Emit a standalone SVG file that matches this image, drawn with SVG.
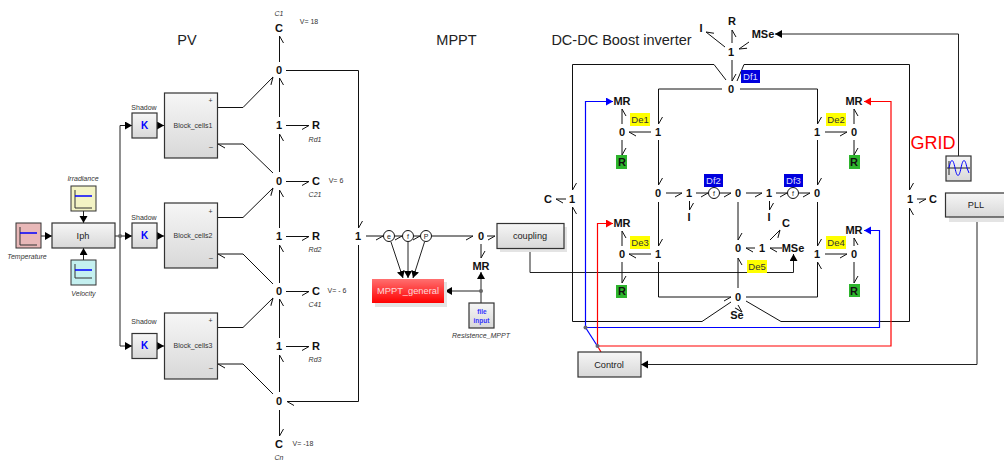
<svg xmlns="http://www.w3.org/2000/svg" width="1004" height="461" viewBox="0 0 1004 461" font-family="'Liberation Sans',Arial,sans-serif">
<style>
text{fill:#222;text-anchor:middle}
.j{font-size:11px;font-weight:bold;fill:#111}
.b{fill:none;stroke:#111;stroke-width:1}
.ba{marker-end:url(#hA)}
.bb{marker-end:url(#hB)}
.s{fill:none;stroke:#222;stroke-width:1;marker-end:url(#fk)}
.box{fill:url(#gr);stroke:#333;stroke-width:1.2}
.sh{fill:#e4e4e4}
.t{font-size:9.2px}
.sm{font-size:7px;fill:#333}
.it{font-size:7px;font-style:italic;fill:#333}
.title{font-size:14.5px}
.cir{fill:#fff;stroke:#111;stroke-width:1}
.ci{font-size:7px}
.y{fill:#ff0}
.df{fill:#00d}
.dft{font-size:9.5px;fill:#ddf}
.det{font-size:9.5px;fill:#333}
.g{fill:#2db52d}
.p{font-size:7px;fill:#333}
.bl{fill:none;stroke:#00f;stroke-width:1.2}
.rl{fill:none;stroke:#f00;stroke-width:1.2}
</style>
<defs>
<marker id="hA" markerUnits="userSpaceOnUse" markerWidth="20" markerHeight="20" orient="auto" overflow="visible"><path d="M0,0L-7,4" fill="none" stroke="#111"/></marker>
<marker id="hB" markerUnits="userSpaceOnUse" markerWidth="20" markerHeight="20" orient="auto" overflow="visible"><path d="M0,0L-7,-4" fill="none" stroke="#111"/></marker>
<marker id="fk" markerUnits="userSpaceOnUse" markerWidth="10" markerHeight="10" refX="7" refY="4" orient="auto"><path d="M0,0L7,4L0,8z" fill="#000"/></marker>
<marker id="fb" markerUnits="userSpaceOnUse" markerWidth="10" markerHeight="10" refX="7" refY="4" orient="auto"><path d="M0,0L7,4L0,8z" fill="#00f"/></marker>
<marker id="fr" markerUnits="userSpaceOnUse" markerWidth="10" markerHeight="10" refX="7" refY="4" orient="auto"><path d="M0,0L7,4L0,8z" fill="#f00"/></marker>
<linearGradient id="gr" x1="0" y1="0" x2="0" y2="1"><stop offset="0" stop-color="#f6f6f6"/><stop offset="1" stop-color="#d8d8d8"/></linearGradient>
<linearGradient id="rd" x1="0" y1="0" x2="0" y2="1"><stop offset="0" stop-color="#ff7070"/><stop offset="1" stop-color="#f00"/></linearGradient>
</defs>

<g id="connectors">
<path class="b ba" d="M279.5 62V36"/>
<path class="b ba" d="M279.5 117V78"/>
<path class="b ba" d="M286 125.5H309"/>
<path class="b ba" d="M279.5 172V134"/>
<path class="b ba" d="M286 181.5H309"/>
<path class="b ba" d="M279.5 228V190"/>
<path class="b ba" d="M286 236.5H309"/>
<path class="b ba" d="M279.5 283V245"/>
<path class="b ba" d="M286 291.5H309"/>
<path class="b ba" d="M279.5 338V299"/>
<path class="b ba" d="M286 346.5H309"/>
<path class="b ba" d="M279.5 392V355"/>
<path class="b bb" d="M279.5 410V436"/>
<path class="b ba" d="M217 107.5H243L273 77"/>
<path class="b bb" d="M273 173L243 144H218"/>
<path class="b ba" d="M217 217.5H243L273 188"/>
<path class="b bb" d="M273 284L243 254H218"/>
<path class="b ba" d="M217 327.5H243L273 298"/>
<path class="b bb" d="M273 394L243 364H218"/>
<path class="b bb" d="M286 70.5H358.5V228"/>
<path class="b bb" d="M358.5 245V401.5H287"/>
<path class="s" d="M41 236H52"/>
<path class="s" d="M83.5 211V223"/>
<path class="s" d="M83.5 260V248"/>
<path class="s" d="M115 236H132"/>
<path class="s" d="M120 236V125.5H132"/>
<path class="s" d="M120 236V346H132"/>
<path class="s" d="M157 125.5H164"/>
<path class="s" d="M157 236H164"/>
<path class="s" d="M157 346H164"/>
<path class="b ba" d="M366 236H383"/>
<path class="b ba" d="M395 236H402"/>
<path class="b ba" d="M414 236H420"/>
<path class="b ba" d="M432 236H473"/>
<path class="b ba" d="M487 236H495"/>
<path class="b bb" d="M481 244V258"/>
<path class="s" d="M391 242L403 278"/>
<path class="s" d="M408 242V278"/>
<path class="s" d="M424.5 242L413 278"/>
<path class="s" d="M481 291H445"/>
<path class="s" d="M481 303V272"/>
<path class="s" d="M530 248V272.5H793.5V254"/>
<path class="b ba" d="M725 47L706 32"/>
<path class="b ba" d="M732 43V30"/>
<path class="b bb" d="M749 42L739 49"/>
<path class="b bb" d="M732 60V81"/>
<path class="b bb" d="M726 80L714 64.5H572.5V190"/>
<path class="b bb" d="M737 81L744 64.5H909.5V190"/>
<path class="b ba" d="M731 302L702 321.5H572.5V207"/>
<path class="b ba" d="M746 301L781 321.5H909.5V208"/>
<path class="b bb" d="M566 199H556"/>
<path class="b ba" d="M917 199H926"/>
<path class="b bb" d="M722 89H658.5V124"/>
<path class="b bb" d="M740 89H817.5V124"/>
<path class="b bb" d="M651 132H629"/>
<path class="b ba" d="M622 124V109"/>
<path class="b bb" d="M622 140V155"/>
<path class="b ba" d="M825 132H847"/>
<path class="b ba" d="M854 124V109"/>
<path class="b bb" d="M854 140V155"/>
<path class="b bb" d="M658.5 140V185"/>
<path class="b bb" d="M817.5 140V185"/>
<path class="b ba" d="M666 193H682"/>
<path class="b ba" d="M696 193H708"/>
<path class="b ba" d="M720 193H731"/>
<path class="b ba" d="M746 193H762"/>
<path class="b ba" d="M776 193H787"/>
<path class="b ba" d="M799 193H810"/>
<path class="b bb" d="M689.5 201V210"/>
<path class="b bb" d="M769.5 201V210"/>
<path class="b bb" d="M658.5 202V246"/>
<path class="b bb" d="M817.5 202V246"/>
<path class="b bb" d="M651 254H629"/>
<path class="b ba" d="M622 246V231"/>
<path class="b bb" d="M622 262V283"/>
<path class="b ba" d="M825 254H847"/>
<path class="b ba" d="M854 246V238"/>
<path class="b bb" d="M854 262V283"/>
<path class="b ba" d="M658.5 262V297H731"/>
<path class="b ba" d="M746 297H817.5V262"/>
<path class="b bb" d="M738 202V240"/>
<path class="b ba" d="M738 288V258"/>
<path class="b bb" d="M755 248H746"/>
<path class="b bb" d="M782 248H770"/>
<path class="b ba" d="M770 240L780 230"/>
<path class="b ba" d="M738 305L742 312"/>
<path class="bl" marker-end="url(#fb)" d="M585.5 327.5V101.5H613"/>
<path class="bl" marker-end="url(#fb)" d="M585.5 327.5H879.5V230.5H864"/>
<path class="bl" d="M585.5 327.5L598 347"/>
<path class="rl" marker-end="url(#fr)" d="M597.5 346V223.5H613"/>
<path class="rl" marker-end="url(#fr)" d="M597.5 346H891V101.5H864"/>
<path class="rl" d="M597.5 346L601 352"/>
<path class="s" d="M958.5 156V34H775"/>
<path class="s" d="M977 217V364.500H641"/>
<circle cx="120" cy="236" r="2" fill="#666"/>
<circle cx="481" cy="291" r="2" fill="#666"/>
<circle cx="585.5" cy="327.5" r="2" fill="#667"/>
<circle cx="597.5" cy="346" r="2" fill="#667"/>
</g>

<g id="titles">
<text class="title" x="187" y="45">PV</text>
<text class="title" x="456.5" y="45">MPPT</text>
<text class="title" x="621.5" y="45">DC-DC Boost inverter</text>
<text x="933" y="149" font-size="18" style="fill:#f00">GRID</text>
</g>

<g id="temperature"><rect x="16" y="223" width="25" height="25" fill="#e8b8b8" stroke="#333"/><path d="M20 227V245H37" fill="none" stroke="#333"/><path d="M20 233H37" stroke="#00f" stroke-width="1.5"/><text class="it" x="27" y="259">Temperature</text></g>
<g id="irradiance"><rect x="71" y="186" width="25" height="25" fill="#f3f3c4" stroke="#333"/><path d="M75 190V208H92" fill="none" stroke="#333"/><path d="M75 196H92" stroke="#00f" stroke-width="1.5"/><text class="it" x="83" y="181">Irradiance</text></g>
<g id="velocity"><rect x="71" y="260" width="25" height="25" fill="#c4f0f0" stroke="#333"/><path d="M75 264V278H92" fill="none" stroke="#333"/><path d="M75 270H92" stroke="#00f" stroke-width="1.5"/><text class="it" x="83.5" y="296">Velocity</text></g>
<g id="iph"><rect class="box" x="52" y="223" width="63" height="25"/><text class="t" x="83" y="239">Iph</text></g>

<g id="k1"><rect class="box" x="132" y="113" width="25" height="25"/><text x="144.5" y="129" font-size="10" font-weight="bold" style="fill:#00f">K</text><text class="sm" x="144" y="110">Shadow</text></g>
<g id="k2"><rect class="box" x="132" y="223" width="25" height="25"/><text x="144.5" y="239" font-size="10" font-weight="bold" style="fill:#00f">K</text><text class="sm" x="144" y="220">Shadow</text></g>
<g id="k3"><rect class="box" x="132" y="333.5" width="25" height="25"/><text x="144.5" y="349" font-size="10" font-weight="bold" style="fill:#00f">K</text><text class="sm" x="144" y="324">Shadow</text></g>

<g id="block1"><rect class="box" x="164.5" y="93" width="53" height="65"/><text class="sm" x="193" y="128">Block_cells1</text><text class="p" x="210.5" y="103">+</text><text class="p" x="211" y="149">–</text></g>
<g id="block2"><rect class="box" x="164.5" y="203" width="53" height="65"/><text class="sm" x="193" y="238">Block_cells2</text><text class="p" x="210.5" y="214">+</text><text class="p" x="211" y="260">–</text></g>
<g id="block3"><rect class="box" x="164.5" y="313" width="53" height="66"/><text class="sm" x="193" y="348">Block_cells3</text><text class="p" x="210.5" y="323">+</text><text class="p" x="211" y="370">–</text></g>

<g id="c1"><text class="j" x="279" y="32">C</text><text class="it" x="279" y="16">C1</text><text class="sm" x="309" y="24">V= 18</text></g>
<g id="j0a"><text class="j" x="279" y="74">0</text></g>
<g id="j1a"><text class="j" x="279" y="129">1</text></g>
<g id="r1"><text class="j" x="316" y="129">R</text><text class="it" x="315" y="142">Rd1</text></g>
<g id="j0b"><text class="j" x="279" y="185">0</text></g>
<g id="c21"><text class="j" x="316" y="185">C</text><text class="it" x="315" y="197">C21</text><text class="sm" x="336" y="183">V= 6</text></g>
<g id="j1b"><text class="j" x="279" y="240">1</text></g>
<g id="r2"><text class="j" x="316" y="240">R</text><text class="it" x="315" y="252">Rd2</text></g>
<g id="j0c"><text class="j" x="279" y="295">0</text></g>
<g id="c41"><text class="j" x="316" y="295">C</text><text class="it" x="315" y="307">C41</text><text class="sm" x="337" y="293">V= - 6</text></g>
<g id="j1c"><text class="j" x="279" y="350">1</text></g>
<g id="r3"><text class="j" x="316" y="350">R</text><text class="it" x="315" y="362">Rd3</text></g>
<g id="j0d"><text class="j" x="279" y="405">0</text></g>
<g id="cn"><text class="j" x="279" y="448">C</text><text class="it" x="279" y="460">Cn</text><text class="sm" x="303" y="446">V= -18</text></g>

<g id="j1main"><text class="j" x="358" y="240">1</text></g>
<g id="ce"><circle class="cir" cx="389" cy="236" r="5.5"/><text class="ci" x="389" y="238.5">e</text></g>
<g id="cf"><circle class="cir" cx="408" cy="236" r="5.5"/><text class="ci" x="408" y="238.5">f</text></g>
<g id="cp"><circle class="cir" cx="426" cy="236" r="5.5"/><text class="ci" x="426" y="238.5">P</text></g>
<g id="j0m"><text class="j" x="481" y="240">0</text></g>
<g id="mrm"><text class="j" x="481" y="270">MR</text></g>
<g id="coupling"><rect class="sh" x="500" y="227" width="67" height="25"/><rect class="box" x="497" y="223.5" width="67" height="25"/><text class="t" x="530" y="239">coupling</text></g>
<g id="mppt"><rect class="sh" x="375" y="282" width="72" height="25"/><rect x="372" y="279" width="72" height="24" fill="url(#rd)"/><text x="408" y="294" font-size="9.3" style="fill:#ffd8d8">MPPT_general</text></g>
<g id="file"><rect class="box" x="469" y="303" width="25" height="25"/><text x="482" y="313.5" font-size="6.5" font-weight="bold" style="fill:#33f">file</text><text x="481.500" y="322.5" font-size="6.5" font-weight="bold" style="fill:#33f">input</text><text class="it" x="481" y="338">Resistence_MPPT</text></g>

<g id="top"><text class="j" x="701" y="32">I</text><text class="j" x="732" y="25">R</text><text class="j" x="763" y="38">MSe</text><text class="j" x="731" y="56">1</text></g>
<g id="j0top"><text class="j" x="731" y="93">0</text></g>
<g id="df1"><rect class="df" x="741" y="70" width="19" height="13"/><text class="dft" x="750.5" y="80">Df1</text></g>
<g id="leftc"><text class="j" x="548" y="203">C</text><text class="j" x="572" y="203">1</text></g>
<g id="rightc"><text class="j" x="910" y="203">1</text><text class="j" x="933" y="203">C</text></g>

<g id="sw1"><text class="j" x="622" y="105">MR</text><text class="j" x="622" y="136">0</text><text class="j" x="658" y="136">1</text><rect class="g" x="616" y="155" width="11" height="14"/><text class="j" x="622" y="166">R</text><rect class="y" x="630" y="113" width="20" height="13"/><text class="det" x="640" y="123">De1</text></g>
<g id="sw2"><text class="j" x="854" y="105">MR</text><text class="j" x="854" y="136">0</text><text class="j" x="817" y="136">1</text><rect class="g" x="849" y="155" width="11" height="14"/><text class="j" x="854" y="166">R</text><rect class="y" x="826" y="113" width="20" height="13"/><text class="det" x="836" y="123">De2</text></g>
<g id="sw3"><text class="j" x="622" y="227">MR</text><text class="j" x="622" y="258">0</text><text class="j" x="658" y="258">1</text><rect class="g" x="616" y="285" width="11" height="13"/><text class="j" x="622" y="295">R</text><rect class="y" x="630" y="236" width="20" height="13"/><text class="det" x="640" y="246">De3</text></g>
<g id="sw4"><text class="j" x="854" y="234">MR</text><text class="j" x="854" y="258">0</text><text class="j" x="817" y="258">1</text><rect class="g" x="849" y="284" width="11" height="13"/><text class="j" x="854" y="295">R</text><rect class="y" x="826" y="236" width="20" height="13"/><text class="det" x="836" y="246">De4</text></g>

<g id="mid"><text class="j" x="658" y="197">0</text><text class="j" x="689" y="197">1</text><text class="j" x="689" y="221">I</text><circle class="cir" cx="714" cy="193" r="5.5"/><text class="ci" x="714" y="195.5">f</text><text class="j" x="738" y="197">0</text><text class="j" x="769" y="197">1</text><text class="j" x="769" y="221">I</text><circle class="cir" cx="793" cy="193" r="5.5"/><text class="ci" x="793" y="195.5">f</text><text class="j" x="817" y="197">0</text></g>
<g id="df2"><rect class="df" x="704" y="174" width="19" height="13"/><text class="dft" x="713.5" y="184">Df2</text></g>
<g id="df3"><rect class="df" x="784" y="174" width="19" height="13"/><text class="dft" x="793.5" y="184">Df3</text></g>
<g id="low"><text class="j" x="738" y="252">0</text><text class="j" x="762" y="252">1</text><text class="j" x="786" y="227">C</text><text class="j" x="793" y="252">MSe</text><text class="j" x="738" y="301">0</text><text class="j" x="737" y="319">Se</text><rect class="y" x="747" y="260" width="20" height="13"/><text class="det" x="757" y="270">De5</text></g>

<g id="control"><rect class="box" x="578" y="352" width="63" height="25"/><text class="t" x="609" y="368">Control</text></g>
<g id="pll"><rect class="sh" x="949" y="197" width="60" height="25"/><rect class="box" x="945.5" y="193" width="62" height="24"/><text class="t" x="976" y="208">PLL</text></g>
<g id="sine"><rect class="box" x="946" y="156" width="25" height="25"/><path d="M947 168H970M949 161V175" stroke="#222" fill="none"/><path d="M949 168C951 158 953 158 955 168S959 178 961 168S965 158 967 168L969 173" fill="none" stroke="#00f"/></g>
</svg>
